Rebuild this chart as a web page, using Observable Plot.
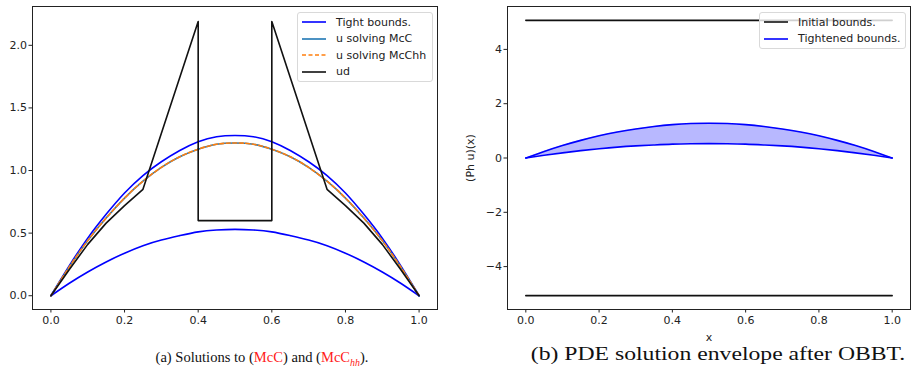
<!DOCTYPE html>
<html>
<head>
<meta charset="utf-8">
<script src="https://cdn.jsdelivr.net/npm/d3@7"></script>
<script src="https://cdn.jsdelivr.net/npm/@observablehq/plot@0.6"></script>
<style>
  html, body { margin: 0; padding: 0; background: #fff; }
  #root { position: relative; width: 911px; height: 376px; overflow: hidden; font-family: "DejaVu Sans", sans-serif; }
  .panel { position: absolute; top: 0; }
  .panel svg text { font-size: 11px; font-family: "DejaVu Sans", sans-serif; }
  .legend { position: absolute; background: rgba(255,255,255,0.8); border: 1px solid #d9d9d9; border-radius: 3px; box-sizing: border-box; }
  .legend .row { position: absolute; left: 0; height: 16px; display: flex; align-items: center; font-size: 11px; color: #222; white-space: nowrap; }
  .legend svg { flex: none; }
  .cap { position: absolute; font-family: "Liberation Serif", "DejaVu Serif", serif; color: #111; white-space: nowrap; transform-origin: 50% 50%; }
  .red { color: #ff1a1a; }
</style>
</head>
<body>
<div id="root">
  <div id="left" class="panel" style="left:0"></div>
  <div id="right" class="panel" style="left:460px"></div>
  <div class="cap" style="left:262px; top:350px; font-size:14px; transform: translateX(-50%) scaleX(1.04);">(a) Solutions to (<span class="red">McC</span>) and (<span class="red">McC<sub style="font-style:italic;font-size:9.5px;">hh</sub></span>).</div>
  <div class="cap" style="left:718px; top:344px; font-size:18.5px; transform: translateX(-50%) scaleX(1.28);">(b) PDE solution envelope after OBBT.</div>
</div>
<script>
// ---- data ----
const xs = [0,0.05,0.1,0.15,0.2,0.25,0.3,0.35,0.4,0.45,0.5,0.55,0.6,0.65,0.7,0.75,0.8,0.85,0.9,0.95,1];
const tightUpper = [0,0.24,0.46,0.65,0.82,0.96,1.07,1.16,1.23,1.27,1.28,1.27,1.23,1.16,1.07,0.96,0.82,0.65,0.46,0.24,0];
const tightLower = [0,0.10,0.19,0.27,0.34,0.40,0.445,0.48,0.51,0.525,0.53,0.525,0.51,0.48,0.445,0.40,0.34,0.27,0.19,0.10,0];
const uMcC   = [0,0.23,0.44,0.62,0.78,0.915,1.025,1.11,1.17,1.21,1.22,1.21,1.17,1.11,1.025,0.915,0.78,0.62,0.44,0.23,0];
const uMcChh = [0,0.23,0.44,0.62,0.78,0.915,1.025,1.11,1.17,1.21,1.22,1.21,1.17,1.11,1.025,0.915,0.78,0.62,0.44,0.23,0];
const udX = [0,0.05,0.1,0.15,0.2,0.25,0.4,0.4,0.6,0.6,0.75,0.8,0.85,0.9,0.95,1];
const udY = [0,0.21,0.41,0.58,0.72,0.85,2.19,0.6,0.6,2.19,0.85,0.72,0.58,0.41,0.21,0];
const initX = [0, 1];
const initUpper = [5.07, 5.07];
const initLower = [-5.07, -5.07];
const xTicks = [0,0.2,0.4,0.6,0.8,1.0];
const yTicksA = [0,0.5,1.0,1.5,2.0];
const yTicksB = [-4,-2,0,2,4];
const legendA = ["Tight bounds.", "u solving McC", "u solving McChh", "ud"];
const legendB = ["Initial bounds.", "Tightened bounds."];

const BLUE = "#0000ff", TAB_BLUE = "#1f77b4", ORANGE = "#ff7f0e", BLACK = "#111";

const tight = xs.map((x, i) => ({x, lo: tightLower[i], hi: tightUpper[i], u: uMcC[i], uh: uMcChh[i]}));
const ud = udX.map((x, i) => ({x, y: udY[i]}));
const init = initX.map((x, i) => ({x, hi: initUpper[i], lo: initLower[i]}));

const common = {
  style: {fontFamily: "DejaVu Sans, sans-serif", fontSize: "11px", color: "#222", background: "transparent", overflow: "visible"}
};

// ---- panel (a) ----
const plotA = Plot.plot({
  ...common,
  width: 460, height: 335,
  marginLeft: 32, marginRight: 23, marginTop: 6, marginBottom: 26,
  x: {domain: [-0.05, 1.05]},
  y: {domain: [-0.11, 2.31]},
  marks: [
    Plot.frame({stroke: "#222", strokeWidth: 1}),
    Plot.axisX({ticks: xTicks, tickFormat: ".1f", tickSize: 3.5, tickPadding: 3, fontSize: 11, label: null}),
    Plot.axisY({ticks: yTicksA, tickFormat: ".1f", tickSize: 3.5, tickPadding: 2, fontSize: 11, label: null}),
    Plot.line(tight, {x: "x", y: "hi", stroke: BLUE, strokeWidth: 1.6, curve: "natural"}),
    Plot.line(tight, {x: "x", y: "lo", stroke: BLUE, strokeWidth: 1.6, curve: "natural"}),
    Plot.line(tight, {x: "x", y: "u", stroke: TAB_BLUE, strokeWidth: 1.6, curve: "natural"}),
    Plot.line(tight, {x: "x", y: "uh", stroke: ORANGE, strokeWidth: 1.6, strokeDasharray: "4,2.5", curve: "natural"}),
    Plot.line(ud, {x: "x", y: "y", stroke: BLACK, strokeWidth: 1.6})
  ]
});
document.getElementById("left").appendChild(plotA);

// ---- panel (b) ----
const plotB = Plot.plot({
  ...common,
  width: 451, height: 345,
  marginLeft: 47, marginRight: 1, marginTop: 6, marginBottom: 36,
  x: {domain: [-0.05, 1.05]},
  y: {domain: [-5.58, 5.58]},
  marks: [
    Plot.frame({stroke: "#222", strokeWidth: 1}),
    Plot.axisX({ticks: xTicks, tickFormat: ".1f", tickSize: 3.5, tickPadding: 3, fontSize: 11, label: "x", labelAnchor: "center", labelOffset: 31, labelArrow: "none"}),
    Plot.axisY({ticks: yTicksB, tickSize: 3.5, tickPadding: 2, fontSize: 11, label: "(Ph u)(x)", labelAnchor: "center", labelOffset: 41, labelArrow: "none"}),
    Plot.line(init, {x: "x", y: "hi", stroke: BLACK, strokeWidth: 1.6}),
    Plot.line(init, {x: "x", y: "lo", stroke: BLACK, strokeWidth: 1.6}),
    Plot.areaY(tight, {x: "x", y1: "lo", y2: "hi", fill: BLUE, fillOpacity: 0.28, curve: "natural"}),
    Plot.line(tight, {x: "x", y: "hi", stroke: BLUE, strokeWidth: 1.6, curve: "natural"}),
    Plot.line(tight, {x: "x", y: "lo", stroke: BLUE, strokeWidth: 1.6, curve: "natural"})
  ]
});
document.getElementById("right").appendChild(plotB);

// ---- legends ----
function legend(parent, left, top, width, height, labels, styles, rowYs) {
  const box = document.createElement("div");
  box.className = "legend";
  Object.assign(box.style, {left: left + "px", top: top + "px", width: width + "px", height: height + "px"});
  labels.forEach((lab, i) => {
    const row = document.createElement("div");
    row.className = "row";
    row.style.top = (rowYs[i] - top - 8) + "px";
    row.style.left = "4px";
    const s = styles[i];
    row.innerHTML = `<svg width="25" height="16"><line x1="0" x2="24" y1="8" y2="8" stroke="${s.c}" stroke-width="1.6" ${s.d ? `stroke-dasharray="${s.d}"` : ""}/></svg><span style="margin-left:9px">${lab}</span>`;
    box.appendChild(row);
  });
  parent.appendChild(box);
}
const root = document.getElementById("root");
legend(root, 297, 12, 136, 70, legendA,
  [{c: BLUE}, {c: TAB_BLUE}, {c: ORANGE, d: "4,2.5"}, {c: BLACK}], [21, 37.7, 54.3, 70.7]);
legend(root, 759, 12, 147, 37, legendB,
  [{c: BLACK}, {c: BLUE}], [21, 37.7]);
</script>
</body>
</html>
